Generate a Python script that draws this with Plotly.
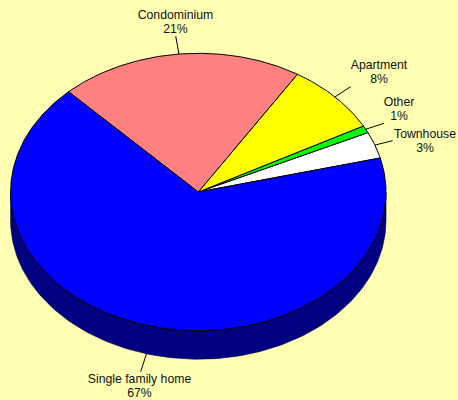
import numpy as np
import plotly.graph_objects as go

categories = ["Townhouse", "Other", "Apartment", "Condominium", "Single family home"]
shares = [3.1, 0.85, 8.25, 21.0, 66.8]
slice_colors = ["#FFFFFF", "#00FF00", "#FFFF00", "#FF8080", "#0000FF"]
label_x = [425, 399, 379, 175.5, 139.5]
name_y = [135, 103, 66, 16, 380]
pct_y = [149, 117, 80, 30, 394]
leader_end_x = [392.7, 384, 350.7, 175.7, 140.7]
leader_end_y = [140.7, 123.3, 86.7, 36, 371.7]

CX, CY, RX, RY, DEPTH = 198.3, 192, 187.7, 138.7, 28.5
START = 14.2
BG = "#FFFFB3"


def pt(deg, off=0):
    a = np.radians(deg)
    return CX + RX * np.cos(a), CY - RY * np.sin(a) + off


fig = go.Figure()

# side wall
a = np.linspace(180, 360, 181)
xt, yt = pt(a)
xb, yb = pt(a[::-1], DEPTH)
fig.add_trace(go.Scatter(x=np.r_[xt, xb, xt[0]], y=np.r_[yt, yb, yt[0]], fill="toself", mode="lines",
                         fillcolor="#000080", line=dict(color="#000040", width=0.6),
                         hoverinfo="skip"))

cur = START
for name, s, c, lx, ly in zip(categories, shares, slice_colors, leader_end_x, leader_end_y):
    span = s * 3.6
    a = np.linspace(cur, cur + span, max(int(span * 2), 4))
    x, y = pt(a)
    fig.add_trace(go.Scatter(x=np.r_[CX, x, CX], y=np.r_[CY, y, CY], fill="toself", mode="lines",
                             fillcolor=c, line=dict(color="#000000", width=1), name=name,
                             hoverinfo="skip"))
    mid = cur + span / 2
    sx, sy = pt(mid, DEPTH if np.sin(np.radians(mid)) < 0 else 0)
    fig.add_trace(go.Scatter(x=[sx, lx], y=[sy, ly], mode="lines",
                             line=dict(color="#000000", width=1), hoverinfo="skip"))
    cur += span

font = dict(family="Liberation Sans", size=12.25, color="#111111")
fig.add_trace(go.Scatter(x=label_x, y=name_y, mode="text", text=categories,
                         textposition="middle center", textfont=font, hoverinfo="skip"))
fig.add_trace(go.Scatter(x=label_x, y=pct_y, mode="text", text=[f"{s:.0f}%" for s in shares],
                         textposition="middle center", textfont=font, hoverinfo="skip"))

fig.update_layout(
    width=458, height=400, margin=dict(l=0, r=0, t=0, b=0),
    paper_bgcolor=BG, plot_bgcolor=BG, showlegend=False,
    xaxis=dict(range=[0, 458], visible=False, fixedrange=True),
    yaxis=dict(range=[400, 0], visible=False, fixedrange=True),
)
fig.write_html("out.html", config=dict(displayModeBar=False),
               post_script="document.body.style.margin='0';document.body.style.overflow='hidden';")
